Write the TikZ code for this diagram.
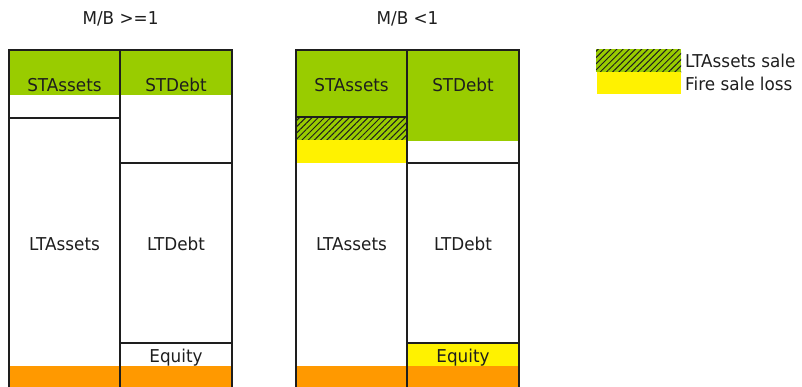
\documentclass[tikz,border=0pt]{standalone}
\usepackage{fontspec}
\setmainfont{DejaVu Sans}[FakeStretch=0.95]
\usetikzlibrary{patterns.meta}
\definecolor{grn}{HTML}{99CC00}
\definecolor{ylw}{HTML}{FFF200}
\definecolor{org}{HTML}{FF9900}
\definecolor{ink}{HTML}{1E1E1E}
\tikzset{
  frame/.style={draw=ink, line width=1.8pt},
  lbl/.style={font=\fontsize{17.7}{20}\selectfont, text=ink, anchor=base, inner sep=0pt},
  hatch/.style={pattern={Lines[angle=45,distance=4.4pt,line width=1pt]}, pattern color=ink},
}
\begin{document}
\begin{tikzpicture}[x=1pt,y=-1pt]
\useasboundingbox (0,0) rectangle (802,386);
% ---- left block (M/B >= 1)
\fill[grn] (9,50) rectangle (232,95);
\fill[org] (9,366) rectangle (232,392);
\draw[frame] (9,50) rectangle (232,392);
\draw[frame] (120,50) -- (120,392);
\draw[frame] (9,118) -- (120,118);
\draw[frame] (120,163) -- (232,163);
\draw[frame] (120,343) -- (232,343);
% ---- right block (M/B < 1)
\fill[grn] (296,50) rectangle (407,117);
\fill[grn] (296,117) rectangle (407,140);
\fill[hatch] (296,117) rectangle (407,140);
\fill[ylw] (296,140) rectangle (407,163);
\fill[grn] (407,50) rectangle (519,141);
\fill[ylw] (407,343) rectangle (519,366);
\fill[org] (296,366) rectangle (519,392);
\draw[frame] (296,50) rectangle (519,392);
\draw[frame] (407,50) -- (407,392);
\draw[frame] (296,117) -- (407,117);
\draw[frame] (407,163) -- (519,163);
\draw[frame] (407,343) -- (519,343);
% ---- legend
\fill[grn] (596,49) rectangle (681,72);
\fill[hatch] (596,49) rectangle (681,72);
\fill[ylw] (597,72) rectangle (681,94);
% ---- texts
\node[lbl] (t1) at (120.5,24) {M/B >=1};
\node[lbl] (t2) at (407.5,24) {M/B <1};
\node[lbl] (sta1) at (64.5,91.7) {STAssets};
\node[lbl] (std1) at (176,91.7) {STDebt};
\node[lbl] (lta1) at (64.5,250) {LTAssets};
\node[lbl] (ltd1) at (176,250) {LTDebt};
\node[lbl] (eq1) at (176,362.5) {Equity};
\node[lbl] (sta2) at (351.5,91.7) {STAssets};
\node[lbl] (std2) at (463,91.7) {STDebt};
\node[lbl] (lta2) at (351.5,250) {LTAssets};
\node[lbl] (ltd2) at (463,250) {LTDebt};
\node[lbl] (eq2) at (463,362.5) {Equity};
\node[lbl,anchor=base west] (lg1) at (685,67) {LTAssets sale};
\node[lbl,anchor=base west] (lg2) at (685,90.3) {Fire sale loss};
\end{tikzpicture}
\end{document}
